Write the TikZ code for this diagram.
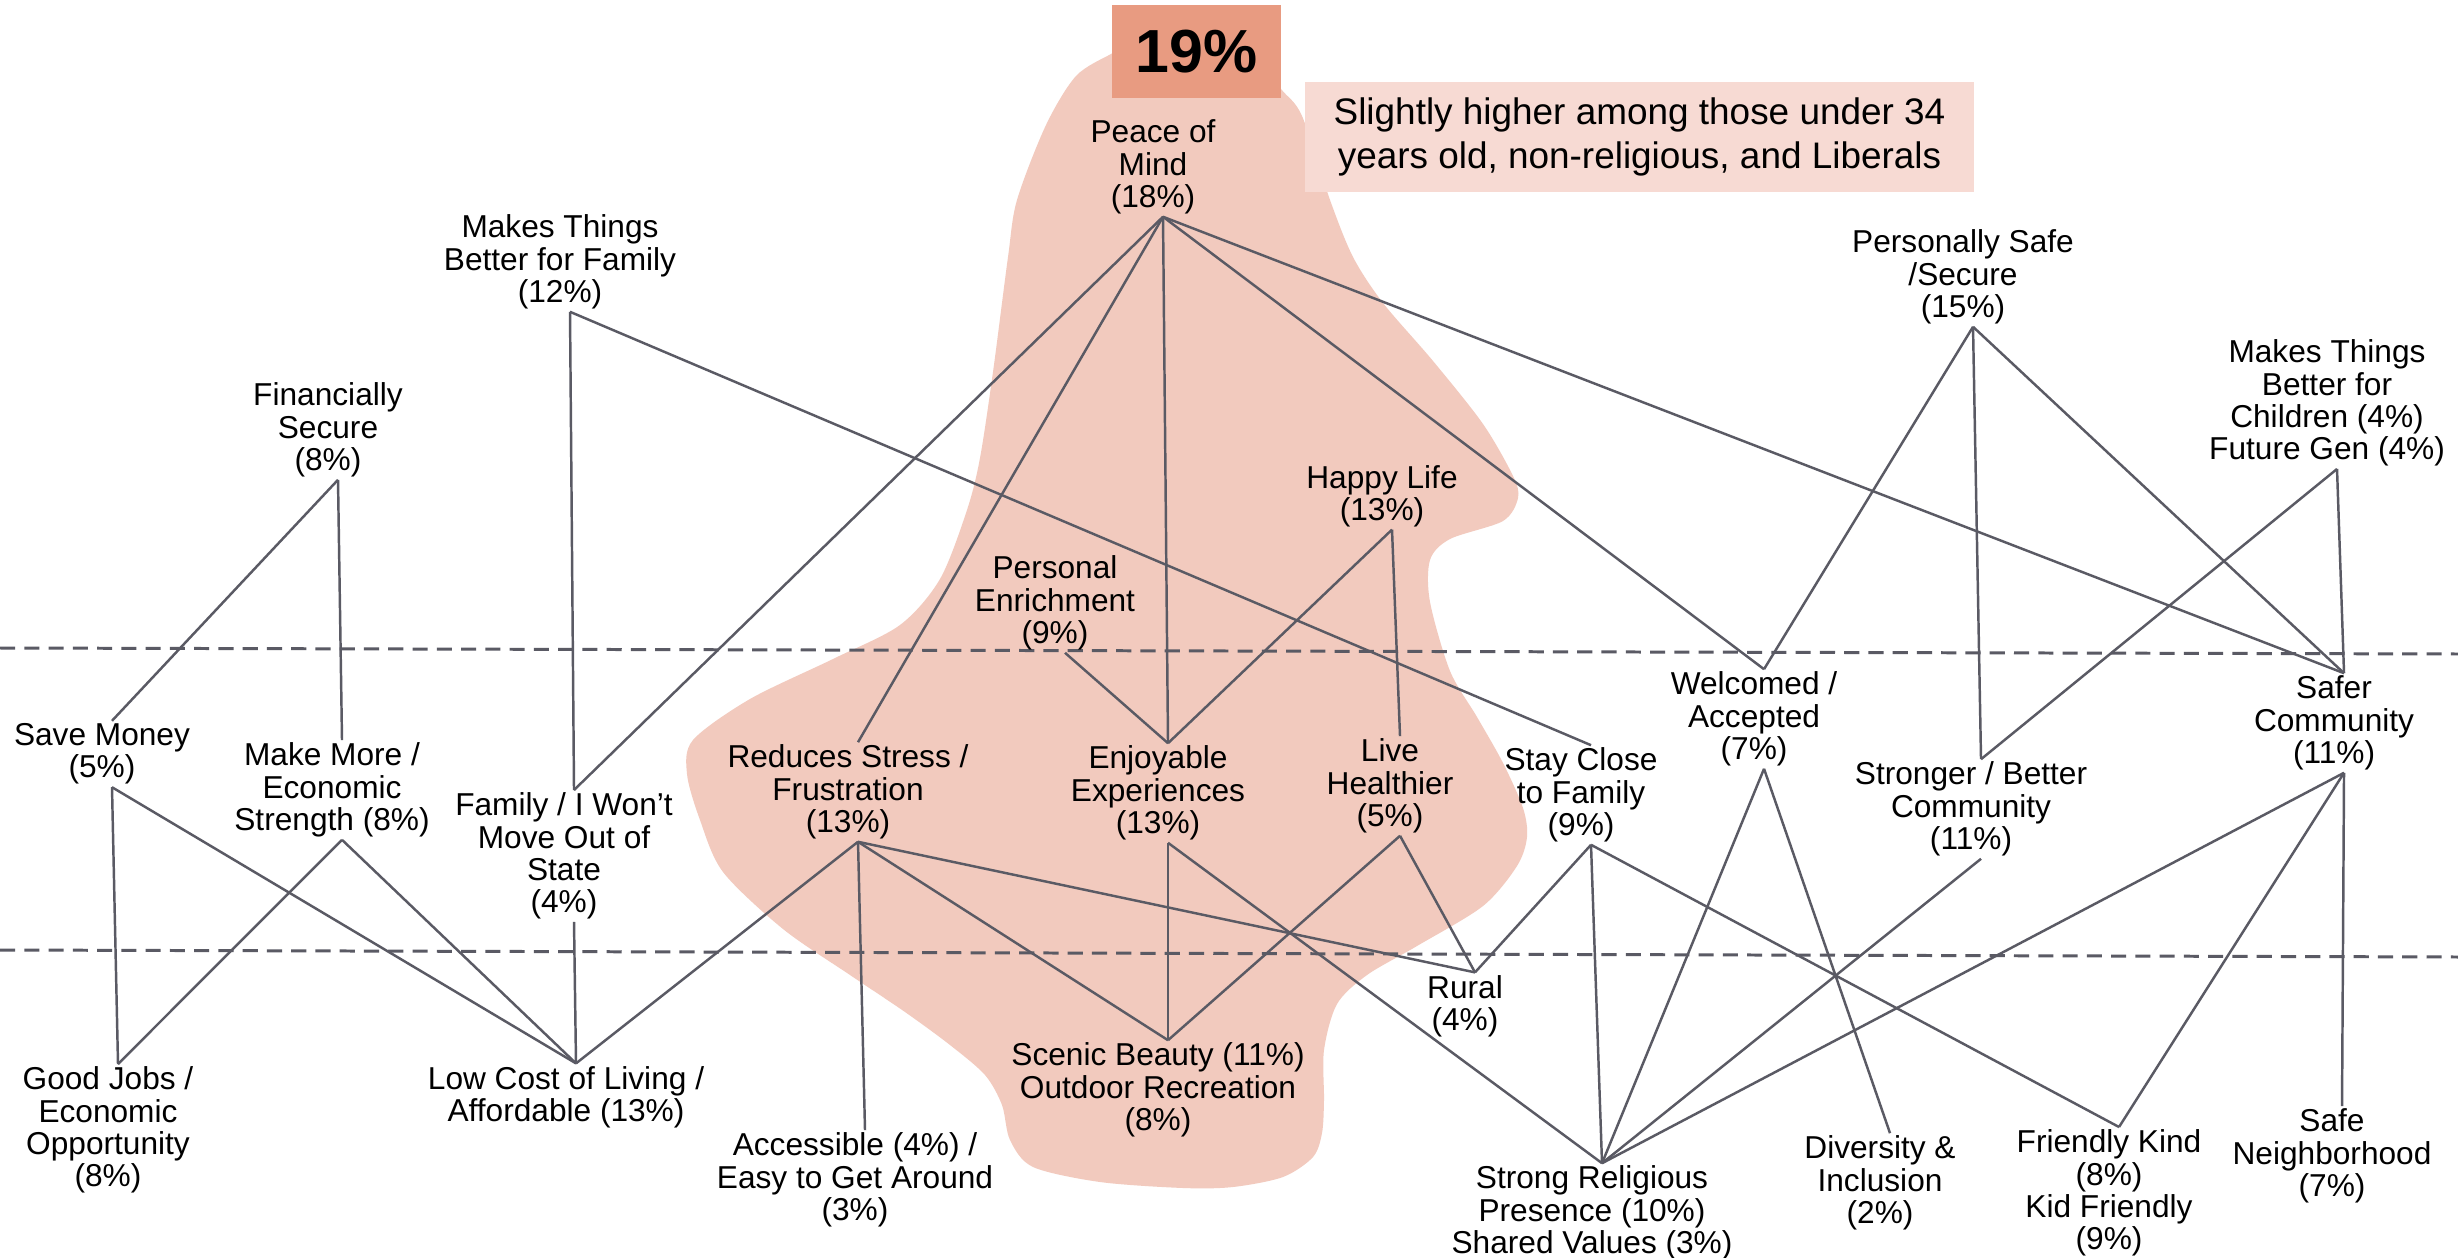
\documentclass[tikz,border=0pt]{standalone}
\usepackage{fontspec}
\setmainfont{Liberation Sans}
\usepackage{tikz}
\definecolor{blobfill}{HTML}{F2CABE}
\definecolor{pctfill}{HTML}{E89B81}
\definecolor{notefill}{HTML}{F7DAD3}
\definecolor{linkgray}{HTML}{5A5A64}
\tikzset{
  lbl/.style={align=center, inner sep=0.02cm, font=\fontsize{9pt}{9.2pt}\selectfont},
  link/.style={draw=linkgray, line width=0.7pt},
  divider/.style={draw=linkgray, line width=0.85pt, dash pattern=on 4.3pt off 2.6pt},
}
\begin{document}
\begin{tikzpicture}[x=0.01cm, y=-0.01cm]
\fill[white] (0,0) rectangle (2458,1258);
\useasboundingbox (0,0) rectangle (2458,1258);
\fill[blobfill] plot[smooth cycle, tension=0.5] coordinates {
(1130,45) (1111,54) (1076,76) (1046,125) (1017,200) (1008,257) (993,372) (980,458)
(967,510) (940,579) (900,625) (833,659) (750,699) (693,740) (687,774) (700,820)
(723,872) (783,929) (850,975) (905,1012) (950,1045) (985,1075) (1002,1105) (1010,1140)
(1033,1167) (1100,1182) (1183,1188) (1233,1187) (1283,1177) (1313,1157) (1322,1133)
(1324,1100) (1324,1050) (1337,1004) (1367,975) (1417,946) (1483,906) (1517,866)
(1527,837) (1523,808) (1503,763) (1477,717) (1450,671) (1430,602) (1430,560) (1450,539)
(1503,521) (1518,498) (1513,476) (1483,424) (1433,361) (1383,303) (1353,257) (1330,200)
(1302,116) (1281,89) (1250,50) (1190,35)};
\draw[divider] (0,648) -- (2458,654);
\draw[divider] (0,950) -- (2458,957);
\node[fill=pctfill, minimum width=1.69cm, minimum height=0.93cm, inner sep=0pt, font=\fontsize{17.3pt}{20pt}\selectfont\bfseries] (peak) at (1196.5,51.5) {19\%};
\node[fill=notefill, minimum width=6.69cm, minimum height=1.10cm, align=center, font=\fontsize{10.5pt}{12.5pt}\selectfont] (note) at (1639.5,137) {Slightly higher among those under 34\\years old, non-religious, and Liberals};
\node[lbl] (fin) at (328,430) {Financially\\Secure\\(8\%)};
\node[lbl] (family12) at (560,262) {Makes Things\\Better for Family\\(12\%)};
\node[lbl] (peace) at (1153,167) {Peace of\\Mind\\(18\%)};
\node[lbl] (psafe) at (1963,277) {Personally Safe\\/Secure\\(15\%)};
\node[lbl] (children) at (2327,403) {Makes Things\\Better for\\Children (4\%)\\Future Gen (4\%)};
\node[lbl] (happy) at (1382,496) {Happy Life\\(13\%)};
\node[lbl] (enrich) at (1055,603) {Personal\\Enrichment\\(9\%)};
\node[lbl] (save) at (102,754) {Save Money\\(5\%)};
\node[lbl] (more) at (332,790) {Make More /\\Economic\\Strength (8\%)};
\node[lbl] (wontmove) at (564,856) {Family / I Won’t\\Move Out of\\State\\(4\%)};
\node[lbl] (stress) at (848,792) {Reduces Stress /\\Frustration\\(13\%)};
\node[lbl] (enjoy) at (1158,793) {Enjoyable\\Experiences\\(13\%)};
\node[lbl] (healthier) at (1390,786) {Live\\Healthier\\(5\%)};
\node[lbl] (stayclose) at (1581,795) {Stay Close\\to Family\\(9\%)};
\node[lbl] (welcomed) at (1754,719) {Welcomed /\\Accepted\\(7\%)};
\node[lbl] (stronger) at (1971,809) {Stronger / Better\\Community\\(11\%)};
\node[lbl] (safer) at (2334,723) {Safer\\Community\\(11\%)};
\node[lbl] (goodjobs) at (108,1130) {Good Jobs /\\Economic\\Opportunity\\(8\%)};
\node[lbl] (lowcost) at (566,1097) {Low Cost of Living /\\Affordable (13\%)};
\node[lbl] (accessible) at (855,1180) {Accessible (4\%) /\\Easy to Get Around\\(3\%)};
\node[lbl] (scenic) at (1158,1090) {Scenic Beauty (11\%)\\Outdoor Recreation\\(8\%)};
\node[lbl] (rural) at (1465,1006) {Rural\\(4\%)};
\node[lbl] (religious) at (1592,1213) {Strong Religious\\Presence (10\%)\\Shared Values (3\%)};
\node[lbl] (diversity) at (1880,1183) {Diversity \&\\Inclusion\\(2\%)};
\node[lbl] (friendly) at (2109,1193) {Friendly Kind\\(8\%)\\Kid Friendly\\(9\%)};
\node[lbl] (safeneigh) at (2332,1156) {Safe\\Neighborhood\\(7\%)};
\foreach \a/\b in {fin/save, fin/more, family12/wontmove, family12/stayclose,
  peace/wontmove, peace/stress, peace/enjoy, peace/welcomed, peace/safer,
  happy/enjoy, happy/healthier, enrich/enjoy, psafe/welcomed, psafe/stronger,
  psafe/safer, children/safer, children/stronger, save/goodjobs, save/lowcost,
  more/goodjobs, more/lowcost, wontmove/lowcost, stress/lowcost, stress/accessible,
  stress/scenic, stress/rural, enjoy/scenic, enjoy/religious, healthier/scenic,
  healthier/rural, stayclose/rural, stayclose/religious, stayclose/friendly,
  welcomed/religious, welcomed/diversity, stronger/religious, safer/religious,
  safer/friendly, safer/safeneigh}
  \draw[link] ([xshift=0.1cm]\a.south) -- ([xshift=0.1cm]\b.north);
\end{tikzpicture}
\end{document}
